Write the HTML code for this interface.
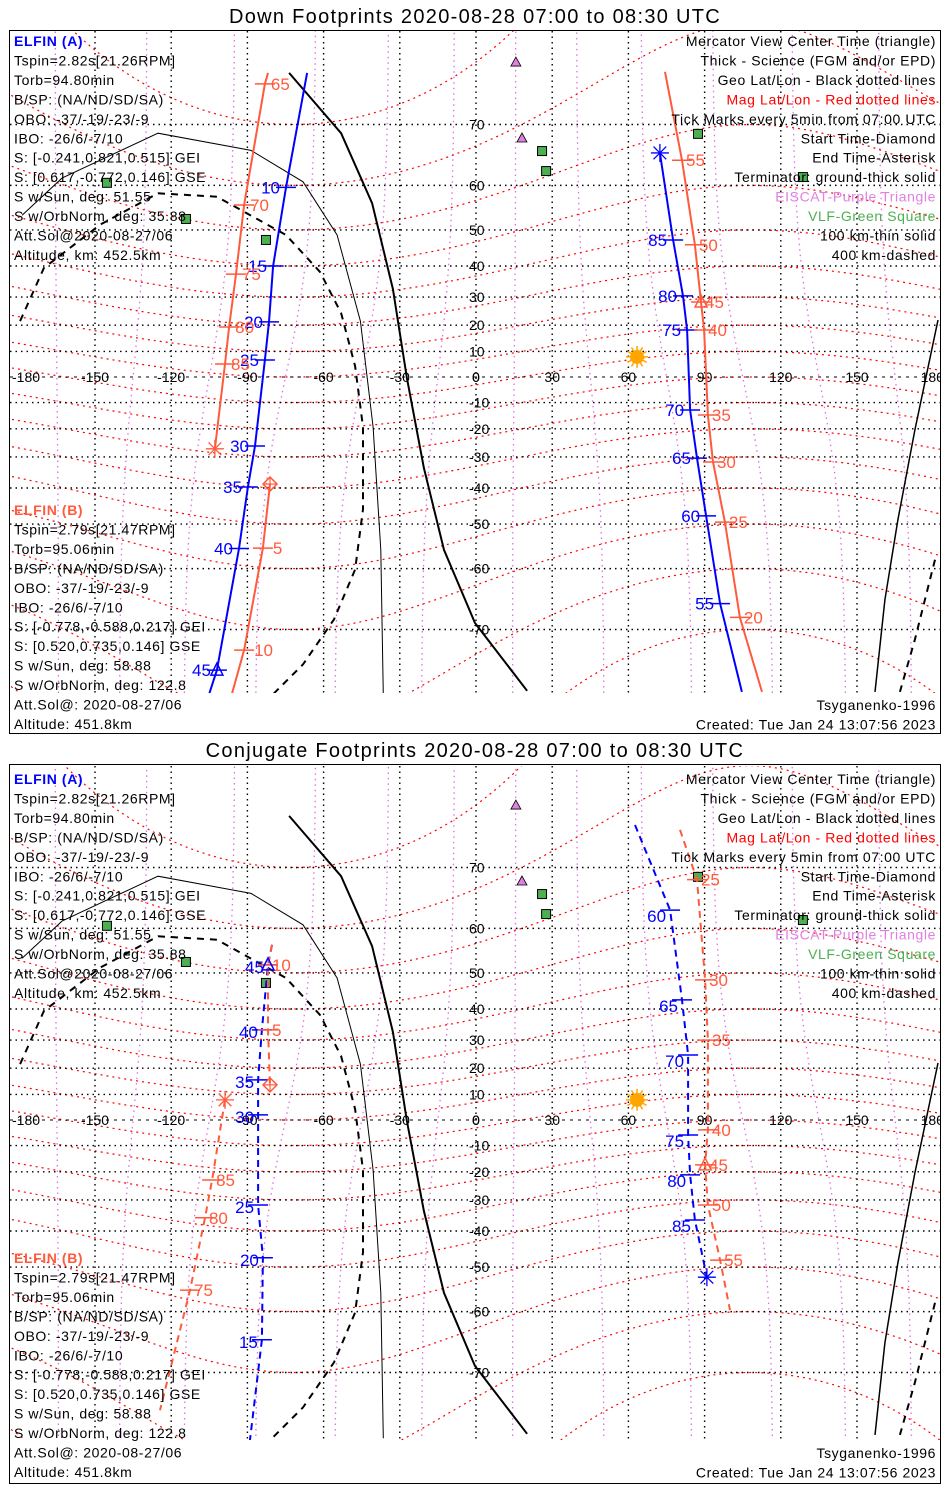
<!DOCTYPE html>
<html><head><meta charset="utf-8"><style>
html,body{margin:0;padding:0;background:#fff;}
svg{display:block;font-family:"Liberation Sans",sans-serif;}
</style></head><body>
<svg id="chart" width="950" height="1500" viewBox="0 0 950 1500" xmlns="http://www.w3.org/2000/svg">
<defs>
<clipPath id="clip0"><rect x="10" y="31" width="930" height="662"/></clipPath>
<clipPath id="clip1"><rect x="10" y="766" width="930" height="674"/></clipPath>
</defs>
<rect x="0" y="0" width="950" height="1500" fill="#fff"/>
<text x="475" y="23" font-size="20" letter-spacing="1.3" text-anchor="middle">Down Footprints 2020-08-28 07:00 to 08:30 UTC</text>
<text x="475" y="757" font-size="20" letter-spacing="1.3" text-anchor="middle">Conjugate Footprints 2020-08-28 07:00 to 08:30 UTC</text>
<rect x="9.5" y="30.5" width="931" height="703" fill="none" stroke="#000"/>
<rect x="9.5" y="764.5" width="931" height="719" fill="none" stroke="#000"/>
<g id="maps"></g>
<g id="texts"></g>
</svg>
<script>
// ---- data arrays ----
const lonTicks = [-180,-150,-120,-90,-60,-30,0,30,60,90,120,150,180];
const lonTickLabels = ["-180","-150","-120","-90","-60","-30","0","30","60","90","120","150","180"];
const latTicks = [-70,-60,-50,-40,-30,-20,-10,0,10,20,30,40,50,60,70];
const magLats = [-80,-70,-60,-50,-40,-30,-20,-10,0,10,20,30,40,50,60,70,80];
const magLons = [-165,-135,-105,-75,-45,-15,15,45,75,105,135,165];
// terminators (lon/lat)
const termThickLon = [-73.6,-53.1,-40.9,-32.7,-27.2,-20.5,-12.6,-0.4,20.1];
const termThickLat = [75.9,68.8,56.3,32.7,-0.4,-33.7,-56.1,-69.1,-76.8];
const termThick2Lon = [181.9,172.8,166.1,161,157.1];
const termThick2Lat = [21.9,-20.4,-48.9,-65.6,-76.9];
const termThinLon = [-178.7,-163,-125.2,-88.6,-68.1,-54.7,-45.5,-40.5,-37.5,-36.5];
const termThinLat = [53.6,61.4,68.8,66.2,60.7,48.7,21.5,-19.3,-56.1,-77.2];
const termDashLon = [-179.5,-170.1,-148,-125.2,-102,-74.8,-61.4,-53.1,-47.6,-44.5,-44.5,-47.6,-55.9,-68.1,-80.3];
const termDashLat = [21.5,39.4,51.3,58.4,57.7,48.7,38.2,24.4,4.3,-19.3,-46.1,-60.2,-68.6,-74.2,-77.2];
const termDash2Lon = [180.7,172.8,166.9];
const termDash2Lat = [-58.2,-71.3,-76.9];
// sites
const vlfLon = [-145.3,-114.2,-82.7,26,27.6,87.4,128.7];
const vlfLat = [60.5,52.7,47.4,66.1,62.7,68.7,61.6];
const eiscatLon = [15.7,18.1];
const eiscatLat = [76.9,68.1];
const sunLon = 63.4, sunLat = 7.9;
// ---- top panel tracks ----
const dnALeftLon = [-66.5,-74.8,-79.9,-81.5,-83.1,-87.0,-89.8,-93.3,-102,-105.5];
const dnALeftLat = [75.9,59.6,40,21.2,6.7,-26.2,-39.7,-55.8,-74.8,-77.4];
const dnALeftLab = ["","10","15","20","25","30","35","40","45",""];
const dnARightLon = [72.4,77.6,81.5,83.1,84.3,87.0,90.6,96.1,104.7];
const dnARightLat = [65.8,47.4,30.4,18.2,-12.9,-30.4,-47.9,-66.2,-76.9];
const dnARightLab = ["","85","80","75","70","65","60","55",""];
const dnBLeftLon = [-81.9,-83.1,-91.3,-94.5,-97.2,-98.8,-102.8];
const dnBLeftLat = [75.9,74.8,55.9,37.5,19.3,5.1,-27.2];
const dnBLeftLab = ["","65","70","75","80","85",""];
const dnBStartLon = [-81.1,-83.9,-91.3,-96.5];
const dnBStartLat = [-38.8,-55.7,-72.6,-77.4];
const dnBStartLab = ["","5","10",""];
const dnBRightLon = [74.4,81.1,86.2,88.6,89.8,91.3,93.3,98,103.9,112.6];
const dnBRightLat = [76.0,64.6,46.1,28.3,18.2,-14.8,-31.7,-49.5,-68.3,-76.9];
const dnBRightLab = ["","55","50","45","40","35","30","25","20",""];
// ---- bottom panel tracks ----
const cjALeftLon = [-80.3,-81.9,-84.3,-85.8,-85.8,-85.8,-83.9,-84.3,-89];
const cjALeftLat = [56.6,52.0,33.4,15.6,2.0,-31.7,-47.6,-65.1,-77.4];
const cjALeftLab = ["","45","40","35","30","25","20","15",""];
const cjBStartLon = [-80.3,-81.9,-81.9,-81.1];
const cjBStartLat = [56.6,52.0,33.4,13.7];
const cjBStartLab = ["","10","5",""];
const cjBEndLon = [-98.8,-103.9,-106.7,-112.6,-124.4];
const cjBEndLat = [7.9,-23.0,-35.9,-55.5,-74.5];
const cjBEndLab = ["","85","80","75",""];
const cjARightLon = [62.6,76.4,81.1,83.5,83.5,84.3,86.2,90.9];
const cjARightLat = [75.0,63.4,42.7,24.8,-5.9,-21.1,-36.6,-52.5];
const cjARightLab = ["","60","65","70","75","80","85",""];
const cjBRightLon = [80.3,87,90.2,91.3,91.3,90.2,91.3,96.1,100];
const cjBRightLat = [74.5,68.3,48.2,30.0,-3.9,-17.4,-31.7,-48.2,-59.7];
const cjBRightLab = ["","25","30","35","40","45","50","55",""];

// ---- helpers ----
const NS = "http://www.w3.org/2000/svg";
function X(lon){ return 476 + lon*2.54; }
function Y(lat, eq){ return eq - 145.5*Math.log(Math.tan(Math.PI/4 + lat*Math.PI/360)); }
function mk(tag, attrs, parent){
  const e = document.createElementNS(NS, tag);
  for (const k in attrs) e.setAttribute(k, attrs[k]);
  parent.appendChild(e); return e;
}
function pathFrom(lons, lats, eq){
  return lons.map((l,i)=>(i?"L":"M")+X(l).toFixed(1)+","+Y(lats[i],eq).toFixed(1)).join(" ");
}
const BLUE="#0000ff", RED="#ff5a3c", MAG="#e070e0", GREEN="#4caf50";
const maps = document.getElementById("maps");

function drawPanel(p, eq, top, bot){
  const g = mk("g", {"clip-path":"url(#clip"+p+")"}, maps);
  
  
  magLons.forEach(ml=>{
    const lons=[], lats=[];
    for(let la=-80; la<=80; la+=4){ lons.push(ml + 12*Math.sin(la*Math.PI/180)*Math.cos((ml+72)*Math.PI/180)); lats.push(la); }
    const e = mk("path",{d:pathFrom(lons,lats,eq),fill:"none",stroke:MAG,"stroke-width":1.3,"stroke-dasharray":"1.5,4"},g);
    
    
  });
  magLats.forEach(m=>{
    const lons=[], lats=[];
    for(let lo=-185; lo<=185; lo+=5){ lons.push(lo); lats.push(Math.max(-84,Math.min(84, m - 10*Math.cos((lo+72)*Math.PI/180)))); }
    const e = mk("path",{d:pathFrom(lons,lats,eq),fill:"none",stroke:"#ff0000","stroke-width":1.2,"stroke-dasharray":"2,4"},g);
    
    
  });
  lonTicks.forEach(lo=>{
    if (Math.abs(lo)===180) return;
    const e = mk("line",{x1:X(lo),x2:X(lo),y1:top,y2:bot,stroke:"#000","stroke-width":1.4,"stroke-dasharray":"1.5,4"},g);
    
    
  });
  latTicks.forEach(la=>{
    if (la===0) return;
    const e = mk("line",{x1:10,x2:940,y1:Y(la,eq),y2:Y(la,eq),stroke:"#000","stroke-width":1.4,"stroke-dasharray":"1.5,4"},g);
    
    
  });
  const eqL = mk("line",{x1:10,x2:940,y1:eq,y2:eq,stroke:"#000","stroke-width":1,"stroke-dasharray":"3,5"},g);
  
  
  const tA = mk("path",{d:pathFrom(termThickLon,termThickLat,eq),fill:"none",stroke:"#000","stroke-width":2},g);
  
  
  const tB = mk("path",{d:pathFrom(termThick2Lon,termThick2Lat,eq),fill:"none",stroke:"#000","stroke-width":1.5},g);
  
  
  const tC = mk("path",{d:pathFrom(termThinLon,termThinLat,eq),fill:"none",stroke:"#000","stroke-width":1},g);
  
  
  const tD = mk("path",{d:pathFrom(termDashLon,termDashLat,eq),fill:"none",stroke:"#000","stroke-width":2,"stroke-dasharray":"7,6"},g);
  
  
  const tE = mk("path",{d:pathFrom(termDash2Lon,termDash2Lat,eq),fill:"none",stroke:"#000","stroke-width":2,"stroke-dasharray":"7,6"},g);
  
  
  latTicks.forEach(la=>{
    const t = mk("text",{x:la===0?472:469,y:Y(la,eq)+5,"font-size":14,fill:"#000"},g);
    t.textContent = la===0?"0":String(la);
    
    
  });
  lonTicks.forEach((lo,i)=>{
    let x = X(lo); let anchor="middle";
    if (lo===-180){ x=12; anchor="start"; }
    if (lo===180){ x=944; anchor="end"; }
    const t = mk("text",{x:x,y:eq+5,"font-size":14,"text-anchor":anchor,fill:"#000"},g);
    t.textContent = lonTickLabels[i];
    
    
  });
  vlfLon.forEach((lo,i)=>{
    const x=X(lo), y=Y(vlfLat[i],eq);
    const r = mk("rect",{x:x-4.5,y:y-4.5,width:9,height:9,fill:GREEN,stroke:"#000","stroke-width":1},g);
    
    
  });
  eiscatLon.forEach((lo,i)=>{
    const x=X(lo), y=Y(eiscatLat[i],eq);
    const r = mk("polygon",{points:`${x-5},${y+4} ${x+5},${y+4} ${x},${y-5}`,fill:"#e080e0",stroke:"#000","stroke-width":0.8},g);
    
    
  });
  const sx=X(sunLon), sy=Y(sunLat,eq);
  const sun = mk("g",{},g);
  
  
  for(let a=0;a<360;a+=30){
    const c=Math.cos(a*Math.PI/180), s=Math.sin(a*Math.PI/180);
    mk("line",{x1:sx+6*c,y1:sy+6*s,x2:sx+11*c,y2:sy+11*s,stroke:"#ffa500","stroke-width":1.5},sun);
  }
  mk("circle",{cx:sx,cy:sy,r:7,fill:"#ffa500"},sun);
  return g;
}

function drawTrack(g, eq, lons, lats, labs, color, dashed, name, labDx, anchor, labDy){
  const tg = mk("g",{},g);
  
  
  const attrs = {d:pathFrom(lons,lats,eq),fill:"none",stroke:color,"stroke-width":2};
  if (dashed) attrs["stroke-dasharray"]="7,5";
  mk("path",attrs,tg);
  labs.forEach((lb,i)=>{
    if(!lb) return;
    const x=X(lons[i]), y=Y(lats[i],eq);
    const tk = mk("line",{x1:x-10,x2:x+10,y1:y,y2:y,stroke:color,"stroke-width":1.5},tg);
    
    
    const t = mk("text",{x:x+labDx,y:y+(labDy||0)+6,"font-size":17,fill:color,"text-anchor":anchor},tg);
    t.textContent = lb;
    
    
  });
  return tg;
}
function asterisk(g, eq, lon, lat, color){
  const x=X(lon), y=Y(lat,eq);
  const a = mk("g",{},g);
  
  
  for(let k=0;k<4;k++){
    const ang=k*Math.PI/4, c=9*Math.cos(ang), s=9*Math.sin(ang);
    mk("line",{x1:x-c,y1:y-s,x2:x+c,y2:y+s,stroke:color,"stroke-width":1.3},a);
  }
}
function diamond(g, eq, lon, lat, color){
  const x=X(lon), y=Y(lat,eq);
  const d = mk("g",{},g);
  
  
  mk("polygon",{points:`${x},${y-7} ${x+7},${y} ${x},${y+7} ${x-7},${y}`,fill:"none",stroke:color,"stroke-width":1.5},d);
  mk("line",{x1:x-7,x2:x+7,y1:y,y2:y,stroke:color,"stroke-width":1.2},d);
  mk("line",{x1:x,x2:x,y1:y-7,y2:y+7,stroke:color,"stroke-width":1.2},d);
}
function triangle(g, eq, lon, lat, color){
  const x=X(lon), y=Y(lat,eq);
  const t = mk("polygon",{points:`${x-6},${y+5} ${x+6},${y+5} ${x},${y-7}`,fill:"none",stroke:color,"stroke-width":1.5},g);
  
  
}

const g0 = drawPanel(0, 377, 31, 693);
drawTrack(g0,377,dnALeftLon,dnALeftLat,dnALeftLab,BLUE,false,"elfin-a-track-west",-6,"end",0);
drawTrack(g0,377,dnBLeftLon,dnBLeftLat,dnBLeftLab,RED,false,"elfin-b-track-west",6,"start",0);
drawTrack(g0,377,dnBStartLon,dnBStartLat,dnBStartLab,RED,false,"elfin-b-track-start",10,"start",0);
drawTrack(g0,377,dnARightLon,dnARightLat,dnARightLab,BLUE,false,"elfin-a-track-east",-6,"end",0);
drawTrack(g0,377,dnBRightLon,dnBRightLat,dnBRightLab,RED,false,"elfin-b-track-east",4,"start",0);
asterisk(g0,377,dnARightLon[0],dnARightLat[0],BLUE);
asterisk(g0,377,dnBLeftLon[dnBLeftLon.length-1],dnBLeftLat[dnBLeftLat.length-1],RED);
diamond(g0,377,dnBStartLon[0],dnBStartLat[0],RED);
triangle(g0,377,dnALeftLon[8],dnALeftLat[8],BLUE);
triangle(g0,377,dnBRightLon[3],dnBRightLat[3],RED);
const g1 = drawPanel(1, 1120, 766, 1440);
drawTrack(g1,1120,cjALeftLon,cjALeftLat,cjALeftLab,BLUE,true,"elfin-a-conj-track-west",-4,"end",2);
drawTrack(g1,1120,cjBStartLon,cjBStartLat,cjBStartLab,RED,true,"elfin-b-conj-track-start",4,"start",0);
drawTrack(g1,1120,cjBEndLon,cjBEndLat,cjBEndLab,RED,true,"elfin-b-conj-track-end",4,"start",0);
drawTrack(g1,1120,cjARightLon,cjARightLat,cjARightLab,BLUE,true,"elfin-a-conj-track-east",-4,"end",6);
drawTrack(g1,1120,cjBRightLon,cjBRightLat,cjBRightLab,RED,true,"elfin-b-conj-track-east",4,"start",0);
asterisk(g1,1120,cjARightLon[7],cjARightLat[7],BLUE);
asterisk(g1,1120,cjBEndLon[0],cjBEndLat[0],RED);
diamond(g1,1120,cjBStartLon[3],cjBStartLat[3],RED);
triangle(g1,1120,cjALeftLon[1],cjALeftLat[1],BLUE);
triangle(g1,1120,cjBRightLon[5],cjBRightLat[5],RED);

const texts = document.getElementById("texts");
const infoA = ["ELFIN (A)","Tspin=2.82s[21.26RPM]","Torb=94.80min","B/SP: (NA/ND/SD/SA)","OBO: -37/-19/-23/-9","IBO: -26/6/-7/10","S: [-0.241,0.821,0.515] GEI","S: [0.617,-0.772,0.146] GSE","S w/Sun, deg: 51.55","S w/OrbNorm, deg: 35.88","Att.Sol@2020-08-27/06","Altitude, km: 452.5km"];
const infoB = ["ELFIN (B)","Tspin=2.79s[21.47RPM]","Torb=95.06min","B/SP: (NA/ND/SD/SA)","OBO: -37/-19/-23/-9","IBO: -26/6/-7/10","S: [-0.778,-0.588,0.217] GEI","S: [0.520,0.735,0.146] GSE","S w/Sun, deg: 58.88","S w/OrbNorm, deg: 122.8","Att.Sol@: 2020-08-27/06","Altitude: 451.8km"];
const legend = ["Mercator View Center Time (triangle)","Thick - Science (FGM and/or EPD)","Geo Lat/Lon - Black dotted lines","Mag Lat/Lon - Red dotted lines","Tick Marks every 5min from 07:00 UTC","Start Time-Diamond","End Time-Asterisk","Terminator: ground-thick solid","EISCAT-Purple Triangle","VLF-Green Square","100 km-thin solid","400 km-dashed"];
const legendColors = ["#000","#000","#000","#ff0000","#000","#000","#000","#000","#e080e0",GREEN,"#000","#000"];
const footer = ["Tsyganenko-1996","Created: Tue Jan 24 13:07:56 2023"];
[0,1].forEach(p=>{
  const offA = p?738:0, offB = p?748:0;
  infoA.forEach((s,i)=>{
    const t = mk("text",{x:14,y:46+i*19.45+offA,"font-size":14,"letter-spacing":0.6,fill:i===0?BLUE:"#000","font-weight":i===0?"bold":"normal"},texts);
    t.textContent=s;
    
    
  });
  infoB.forEach((s,i)=>{
    const t = mk("text",{x:14,y:515+i*19.45+offB,"font-size":14,"letter-spacing":0.6,fill:i===0?RED:"#000","font-weight":i===0?"bold":"normal"},texts);
    t.textContent=s;
    
    
  });
  legend.forEach((s,i)=>{
    const t = mk("text",{x:936,y:46+i*19.45+offA,"font-size":14,"letter-spacing":0.6,fill:legendColors[i],"text-anchor":"end"},texts);
    t.textContent=s;
    
    
  });
  footer.forEach((s,i)=>{
    const t = mk("text",{x:936,y:710+i*19.45+offB,"font-size":14,"letter-spacing":0.6,fill:"#000","text-anchor":"end"},texts);
    t.textContent=s;
    
    
  });
});
</script>
</body></html>
